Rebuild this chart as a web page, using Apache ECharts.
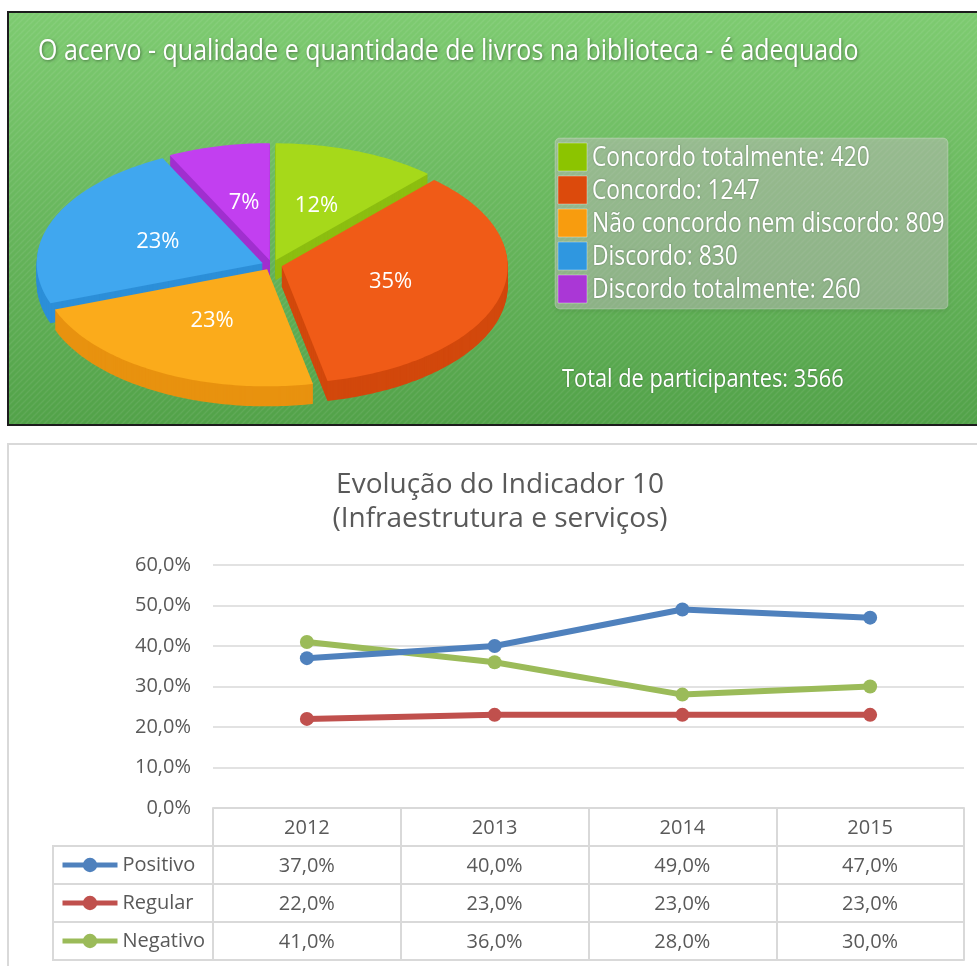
<!DOCTYPE html>
<html><head><meta charset="utf-8">
<script src="https://cdn.jsdelivr.net/npm/echarts@6/dist/echarts.min.js"></script>
<style>html,body{margin:0;padding:0;background:#fff}#c{width:977px;height:966px}</style>
</head><body><div id="c"></div>
<script>
// ---------- data ----------
const pieTitle = 'O acervo - qualidade e quantidade de livros na biblioteca - é adequado';
const pieNames = ['Concordo totalmente', 'Concordo', 'Não concordo nem discordo', 'Discordo', 'Discordo totalmente'];
const pieValues = [420, 1247, 809, 830, 260];
const totalLabel = 'Total de participantes';

const lineTitle = 'Evolução do Indicador 10\n(Infraestrutura e serviços)';
const years = ['2012', '2013', '2014', '2015'];
const seriesNames = ['Positivo', 'Regular', 'Negativo'];
const positivo = [37, 40, 49, 47];
const regular = [22, 23, 23, 23];
const negativo = [41, 36, 28, 30];
const yMin = 0, yMax = 60, yStep = 10;

// ---------- styles ----------
const pieTopColors = ['#a6d91a', '#f05b17', '#fbab1b', '#40a7ef', '#c23ff0'];
const pieSideColors = ['#8cbe10', '#d2480c', '#e8920f', '#2c8fd8', '#a02fcf'];
const swatchColors = ['#8cc400', '#dc4a0c', '#f89c0e', '#2f97e0', '#aa37d6'];
const lineColors = ['#4f81bd', '#c0504d', '#9bbb59'];
const NARROW = '"Open Sans","Noto Sans",sans-serif';
const SANS = '"Open Sans","Noto Sans",sans-serif';
const PIE = {cx: 272, cy: 265, rx: 226, ry: 117, depth: 20, ex: 10, ey: 5, labelR: 0.5};

const total = pieValues.reduce((a, b) => a + b, 0);
const pct = v => (v).toFixed(1).replace('.', ',') + '%';

function renderSlice(params, api) {
  const i = params.dataIndex;
  let before = 0;
  for (let k = 0; k < i; k++) before += pieValues[k];
  const v = api.value(0);
  const a0 = -Math.PI / 2 + before / total * 2 * Math.PI;
  const a1 = a0 + v / total * 2 * Math.PI;
  const mid = (a0 + a1) / 2;
  const cx = PIE.cx + PIE.ex * Math.cos(mid);
  const cy = PIE.cy + PIE.ey * Math.sin(mid);
  const pts = [[cx, cy]];
  const n = Math.max(4, Math.ceil((a1 - a0) / (Math.PI / 180)));
  for (let s = 0; s <= n; s++) {
    const a = a0 + (a1 - a0) * s / n;
    pts.push([cx + PIE.rx * Math.cos(a), cy + PIE.ry * Math.sin(a)]);
  }
  const base = Math.round((Math.sin(mid) + 1) * 100) * 10;
  const children = [];
  for (let d = PIE.depth; d >= 1; d--) {
    children.push({type: 'polygon', z2: base, shape: {points: pts.map(p => [p[0], p[1] + d])},
      style: {fill: pieSideColors[i]}});
  }
  children.push({type: 'polygon', z2: base + 1, shape: {points: pts}, style: {fill: pieTopColors[i]}});
  children.push({type: 'text', z2: 5000,
    x: cx + PIE.rx * PIE.labelR * Math.cos(mid), y: cy + PIE.ry * PIE.labelR * Math.sin(mid),
    style: {text: Math.round(v / total * 100) + '%', fill: '#ffffff', fontSize: 22, fontFamily: SANS,
      align: 'center', verticalAlign: 'middle'}});
  return {type: 'group', children};
}

// stripe texture for the green panel
const stripe = document.createElement('canvas');
stripe.width = 6; stripe.height = 6;
(function () {
  const g = stripe.getContext('2d');
  g.strokeStyle = 'rgba(255,255,255,0.07)';
  g.lineWidth = 1.5;
  g.beginPath(); g.moveTo(0, 6); g.lineTo(6, 0); g.stroke();
  g.beginPath(); g.moveTo(-1, 1); g.lineTo(1, -1); g.stroke();
  g.beginPath(); g.moveTo(5, 7); g.lineTo(7, 5); g.stroke();
})();

// ---------- graphic decorations ----------
const graphics = [];
graphics.push({type: 'rect', z: -5, shape: {x: 8, y: 12, width: 990, height: 413},
  style: {fill: new echarts.graphic.LinearGradient(0, 0, 0, 1, [{offset: 0, color: '#7ecb71'}, {offset: 1, color: '#52a249'}]),
    stroke: '#1c1c1c', lineWidth: 2}});
graphics.push({type: 'rect', z: -4, shape: {x: 9, y: 13, width: 990, height: 411},
  style: {fill: {image: stripe, repeat: 'repeat'}}});
graphics.push({type: 'rect', z: -5, shape: {x: 8, y: 444, width: 990, height: 540},
  style: {fill: '#ffffff', stroke: '#d9d9d9', lineWidth: 2}});
// pie title
graphics.push({type: 'text', z: 2, x: 38, y: 51, scaleX: 0.833,
  style: {text: pieTitle, fill: '#ffffff', fontSize: 30, fontFamily: NARROW, verticalAlign: 'middle',
    textShadowColor: 'rgba(0,0,0,0.4)', textShadowBlur: 3, textShadowOffsetX: 1, textShadowOffsetY: 1}});
// pie legend box
graphics.push({type: 'rect', z: 1, shape: {x: 555, y: 138, width: 393, height: 171, r: 5},
  style: {fill: 'rgba(222,205,220,0.40)', stroke: 'rgba(255,255,255,0.25)', lineWidth: 1,
    shadowColor: 'rgba(0,0,0,0.2)', shadowBlur: 4, shadowOffsetY: 2}});
pieNames.forEach((nm, i) => {
  graphics.push({type: 'rect', z: 2, shape: {x: 558, y: 143 + 33 * i, width: 29, height: 28},
    style: {fill: swatchColors[i], stroke: 'rgba(255,255,255,0.35)', lineWidth: 1}});
  graphics.push({type: 'text', z: 2, x: 592, y: 158 + 33 * i, scaleX: 0.814,
    style: {text: nm + ': ' + pieValues[i], fill: '#ffffff', fontSize: 28, fontFamily: NARROW,
      verticalAlign: 'middle', textShadowColor: 'rgba(0,0,0,0.3)', textShadowBlur: 2}});
});
graphics.push({type: 'text', z: 2, x: 562, y: 380, scaleX: 0.839,
  style: {text: totalLabel + ': ' + total, fill: '#ffffff', fontSize: 26, fontFamily: NARROW,
    verticalAlign: 'middle', textShadowColor: 'rgba(0,0,0,0.3)', textShadowBlur: 2}});
// table legend column lines
[846, 884, 922, 960].forEach(y => {
  graphics.push({type: 'line', z: 1, shape: {x1: 53, y1: y, x2: 214, y2: y}, style: {stroke: '#d9d9d9', lineWidth: 2}});
});
graphics.push({type: 'line', z: 1, shape: {x1: 53, y1: 845, x2: 53, y2: 961}, style: {stroke: '#d9d9d9', lineWidth: 2}});

const tableRows = [positivo, regular, negativo];
const tableOffsets = [38, 76, 114];
const axisText = {fontSize: 20, color: '#595959', fontFamily: SANS, lineHeight: 20};
const xAxes = [{
  type: 'category', data: years, gridIndex: 0, position: 'bottom', boundaryGap: true,
  axisLine: {show: true, lineStyle: {color: '#d9d9d9', width: 2}},
  axisTick: {show: true, alignWithLabel: false, interval: 0, length: 152, lineStyle: {color: '#d9d9d9', width: 2}},
  axisLabel: Object.assign({margin: 10, interval: 0}, axisText)
}];
tableRows.forEach((row, r) => {
  xAxes.push({
    type: 'category', data: years, gridIndex: 0, position: 'bottom', offset: tableOffsets[r], boundaryGap: true,
    axisLine: {show: true, lineStyle: {color: '#d9d9d9', width: 2}},
    axisTick: {show: false},
    axisLabel: Object.assign({margin: 10, interval: 0, formatter: (v, idx) => pct(row[idx])}, axisText)
  });
});
xAxes.push({
  type: 'category', data: years, gridIndex: 0, position: 'bottom', offset: 152,
  axisLine: {show: true, lineStyle: {color: '#d9d9d9', width: 2}},
  axisTick: {show: false}, axisLabel: {show: false}
});

const option = {
  backgroundColor: '#ffffff',
  animation: false,
  title: [
    {text: lineTitle, left: 500, textAlign: 'center', top: 468, padding: 0,
      textStyle: {color: '#595959', fontFamily: SANS, fontSize: 28, fontWeight: 'normal', lineHeight: 34}}
  ],
  legend: {
    data: seriesNames, orient: 'vertical', left: 60, top: 855, padding: 0,
    itemWidth: 55, itemHeight: 18, itemGap: 18, selectedMode: false,
    lineStyle: {width: 5},
    textStyle: {fontSize: 20, color: '#595959', fontFamily: SANS, lineHeight: 20}
  },
  grid: {left: 213, right: 13, top: 565, bottom: 158, containLabel: false},
  xAxis: xAxes,
  yAxis: {
    type: 'value', min: yMin, max: yMax, interval: yStep,
    axisLine: {show: false}, axisTick: {show: false},
    splitLine: {lineStyle: {color: '#d9d9d9', width: 1.5}},
    axisLabel: Object.assign({margin: 22, formatter: v => pct(v)}, axisText)
  },
  graphic: graphics,
  series: [
    {name: seriesNames[0], type: 'line', data: positivo, xAxisIndex: 0, color: lineColors[0],
      symbol: 'circle', symbolSize: 14, lineStyle: {width: 6}, z: 4},
    {name: seriesNames[1], type: 'line', data: regular, xAxisIndex: 0, color: lineColors[1],
      symbol: 'circle', symbolSize: 14, lineStyle: {width: 6}, z: 3},
    {name: seriesNames[2], type: 'line', data: negativo, xAxisIndex: 0, color: lineColors[2],
      symbol: 'circle', symbolSize: 14, lineStyle: {width: 6}, z: 3},
    {name: 'acervo', type: 'custom', coordinateSystem: 'none', renderItem: renderSlice, z: 3,
      data: pieValues.map((v, i) => ({name: pieNames[i], value: [v]}))}
  ]
};
const chart = echarts.init(document.getElementById('c'), null, {renderer: 'canvas'});
chart.setOption(option);
</script>
</body></html>
